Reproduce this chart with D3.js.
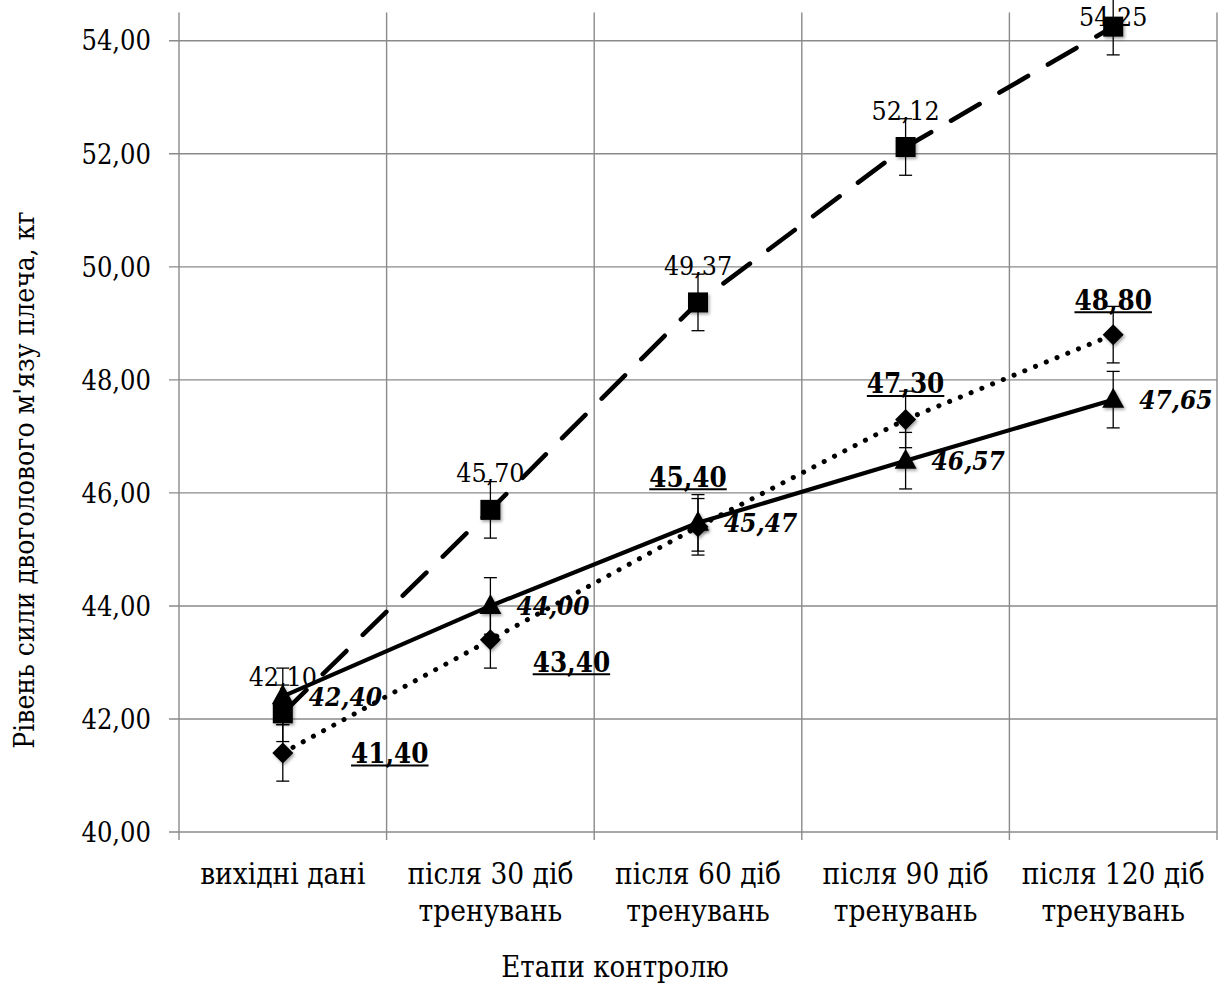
<!DOCTYPE html>
<html><head><meta charset="utf-8">
<script src="https://cdn.jsdelivr.net/npm/d3@7"></script>
<style>
html,body{margin:0;padding:0;background:#fff;}
text{font-family:"DejaVu Serif Condensed","DejaVu Serif",serif;fill:#000;}
</style></head>
<body>
<svg id="chart" width="1228" height="985"></svg>
<script>
// ---- data ----
const categories = [["вихідні дані"], ["після 30 діб","тренувань"], ["після 60 діб","тренувань"], ["після 90 діб","тренувань"], ["після 120 діб","тренувань"]];
const squareValues   = [42.10, 45.70, 49.37, 52.12, 54.25];
const triangleValues = [42.40, 44.00, 45.47, 46.57, 47.65];
const diamondValues  = [41.40, 43.40, 45.40, 47.30, 48.80];
const errorValue = 0.5;
const yTicks = [40, 42, 44, 46, 48, 50, 52, 54];
const yTitle = "Рівень сили двоголового м'язу плеча, кг";
const xTitle = "Етапи контролю";
// label offsets for the underlined (diamond) series labels (layout only)
const diamondLabelOffsets = [[107, 0], [81, 22], [-10, -50], [0, -36], [0, -35]];

const fmt = v => v.toFixed(2).replace(".", ",");

const svg = d3.select("#chart");
const pLeft = 179, pRight = 1217, pTop = 12.5, pBottom = 832;
const x = d3.scaleBand().domain(d3.range(categories.length)).range([pLeft, pRight]).padding(0);
const xc = i => x(i) + x.bandwidth() / 2;
const y = d3.scaleLinear().domain([40, 54.5]).range([pBottom, pTop]);

const defs = svg.append("defs");
const f = defs.append("filter").attr("id", "sh").attr("x", "-50%").attr("y", "-50%").attr("width", "200%").attr("height", "200%");
f.append("feDropShadow").attr("dx", 1.5).attr("dy", 2).attr("stdDeviation", 1.8).attr("flood-color", "#000").attr("flood-opacity", 0.35);

const gridColor = "#8a8a8a";
// horizontal gridlines
svg.append("g").selectAll("line").data(yTicks).join("line")
  .attr("x1", pLeft - 10).attr("x2", pRight)
  .attr("y1", d => y(d)).attr("y2", d => y(d))
  .attr("stroke", gridColor).attr("stroke-width", 1.4);
// vertical gridlines at band edges
const edges = d3.range(categories.length + 1).map(i => i < categories.length ? x(i) : pRight);
svg.append("g").selectAll("line").data(edges).join("line")
  .attr("x1", d => d).attr("x2", d => d)
  .attr("y1", pTop).attr("y2", pBottom + 8)
  .attr("stroke", gridColor).attr("stroke-width", 1.4);

// y tick labels
svg.append("g").selectAll("text").data(yTicks).join("text")
  .attr("x", 151).attr("y", d => y(d)).attr("dy", "0.36em")
  .attr("text-anchor", "end").attr("font-size", 27).text(d => fmt(d));

// x category labels
const cl = svg.append("g").selectAll("text").data(categories).join("text")
  .attr("text-anchor", "middle").attr("font-size", 29.5);
cl.each(function(d, i) {
  const t = d3.select(this);
  d.forEach((line, j) => {
    t.append("tspan").attr("x", xc(i)).attr("y", 884 + j * 37).text(line);
  });
});

// axis titles
svg.append("text").attr("x", 615).attr("y", 977).attr("text-anchor", "middle").attr("font-size", 29).text(xTitle);
svg.append("text").attr("transform", "translate(34,480) rotate(-90)").attr("text-anchor", "middle").attr("font-size", 28).text(yTitle);

// series
function drawSeries(values, dash, width, cap, markerPath) {
  const g = svg.append("g");
  const line = d3.line().x((d, i) => xc(i)).y(d => y(d));
  g.append("path").datum(values).attr("d", line).attr("fill", "none")
    .attr("stroke", "#000").attr("stroke-width", width)
    .attr("stroke-dasharray", dash).attr("stroke-linecap", cap);
  // error bars
  const eb = g.append("g").attr("stroke", "#000").attr("stroke-width", 1.3);
  values.forEach((v, i) => {
    eb.append("line").attr("x1", xc(i)).attr("x2", xc(i)).attr("y1", y(v - errorValue)).attr("y2", y(v + errorValue));
    [v - errorValue, v + errorValue].forEach(e => {
      eb.append("line").attr("x1", xc(i) - 6.5).attr("x2", xc(i) + 6.5).attr("y1", y(e)).attr("y2", y(e));
    });
  });
  g.append("g").selectAll("path").data(values).join("path")
    .attr("d", markerPath)
    .attr("transform", (d, i) => `translate(${xc(i)},${y(d)})`)
    .attr("fill", "#000").attr("filter", "url(#sh)");
}
const diamondPath = "M0,-10.5L10.5,0L0,10.5L-10.5,0Z";
const trianglePath = "M0,-12L11,8L-11,8Z";
const squarePath = "M-10,-10H10V10H-10Z";

drawSeries(diamondValues, "0.1 11.5", 5, "round", diamondPath);
drawSeries(triangleValues, null, 4.2, "butt", trianglePath);
drawSeries(squareValues, "33 23", 4.6, "round", squarePath);

// labels: squares (regular, above)
svg.append("g").selectAll("text").data(squareValues).join("text")
  .attr("x", (d, i) => xc(i)).attr("y", d => Math.max(y(d) - 37, 16)).attr("dy", "0.36em")
  .attr("text-anchor", "middle").attr("font-size", 26.5).text(d => fmt(d));
// labels: triangles (bold italic, right)
svg.append("g").selectAll("text").data(triangleValues).join("text")
  .attr("x", (d, i) => xc(i) + 26).attr("y", d => y(d)).attr("dy", "0.36em")
  .attr("font-size", 26).attr("font-weight", "bold").attr("font-style", "italic").text(d => fmt(d));
// labels: diamonds (bold underlined)
const dl = svg.append("g").selectAll("g").data(diamondValues).join("g")
  .attr("transform", (d, i) => `translate(${xc(i) + diamondLabelOffsets[i][0]},${y(d) + diamondLabelOffsets[i][1]})`);
dl.append("text").attr("text-anchor", "middle").attr("dy", "0.36em")
  .attr("font-size", 27.5).attr("font-weight", "bold").text(d => fmt(d));
dl.each(function() {
  const g = d3.select(this);
  const w = g.select("text").node().getComputedTextLength();
  g.append("line").attr("x1", -w / 2).attr("x2", w / 2).attr("y1", 12.5).attr("y2", 12.5)
    .attr("stroke", "#000").attr("stroke-width", 2);
});
</script>
</body></html>
